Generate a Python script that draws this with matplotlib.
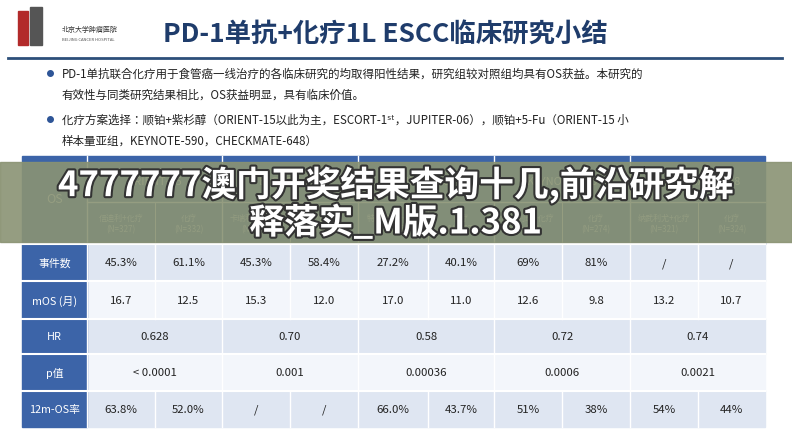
import matplotlib
matplotlib.use("Agg")
import matplotlib.pyplot as plt
from matplotlib import font_manager as fm
from matplotlib.patches import Rectangle
import matplotlib.patheffects as pe

studies = ["ORIENT-15", "ESCORT-1st", "JUPITER-06", "KEYNOTE-590", "CHECKMATE-648"]
arms = ["信迪利+化疗\n(N=327)", "化疗\n(N=332)", "卡瑞利珠+化疗\n(N=298)", "化疗\n(N=298)",
        "特瑞普利+化疗\n(N=257)", "化疗\n(N=257)", "帕博利珠+化疗\n(N=274)", "化疗\n(N=274)",
        "纳武利尤+化疗\n(N=321)", "化疗\n(N=324)"]
row_labels = ["事件数", "mOS (月)", "HR", "p值", "12m-OS率"]
events = ["45.3%", "61.1%", "45.3%", "58.4%", "27.2%", "40.1%", "69%", "81%", "/", "/"]
mos = ["16.7", "12.5", "15.3", "12.0", "17.0", "11.0", "12.6", "9.8", "13.2", "10.7"]
hr = ["0.628", "0.70", "0.58", "0.72", "0.74"]
pval = ["< 0.0001", "0.001", "0.00036", "0.0006", "0.0021"]
os12 = ["63.8%", "52.0%", "/", "/", "66.0%", "43.7%", "51%", "38%", "54%", "44%"]

names = {f.name for f in fm.fontManager.ttflist}
cjk = [n for n in ["Noto Sans CJK SC", "Noto Sans CJK JP", "Noto Sans CJK TC", "Noto Sans CJK KR",
                   "Noto Sans SC", "Noto Sans CJK"] if n in names]
if not cjk:
    cjk = [f.name for f in fm.fontManager.ttflist if "CJK" in f.name or "CJK" in f.fname][:1]
plt.rcParams["font.family"] = cjk + ["DejaVu Sans"]

fig = plt.figure(figsize=(7.92, 4.35), dpi=100)
ax = fig.add_axes([0, 0, 1, 1])
ax.set_xlim(0, 792); ax.set_ylim(435, 0); ax.axis("off")
fig.patch.set_facecolor("white")

# logo
ax.add_patch(Rectangle((18, 12), 10, 34, color="#b22a2a"))
ax.add_patch(Rectangle((30, 8), 12, 38, color="#555555"))
ax.text(62, 30, "北京大学肿瘤医院", fontsize=5, color="#333333", va="center")
ax.text(62, 40, "BEIJING CANCER HOSPITAL", fontsize=3, color="#555555", va="center")
ax.text(163, 34, "PD-1单抗+化疗1L ESCC临床研究小结", fontsize=19, fontweight="bold",
        color="#1f3c6b", va="center")
ax.plot([8, 782], [59, 59], color="#2d4f7a", lw=2)

bul = "#2e5597"
fs = 8.3
ax.plot(50, 74, "o", color=bul, ms=4)
ax.text(62, 74, "PD-1单抗联合化疗用于食管癌一线治疗的各临床研究的均取得阳性结果，研究组较对照组均具有OS获益。本研究的",
        fontsize=fs, va="center", color="#222222")
ax.text(62, 95, "有效性与同类研究结果相比，OS获益明显，具有临床价值。", fontsize=fs, va="center", color="#222222")
ax.plot(50, 120, "o", color=bul, ms=4)
ax.text(62, 120, "化疗方案选择：顺铂+紫杉醇（ORIENT-15以此为主，ESCORT-1ˢᵗ，JUPITER-06），顺铂+5-Fu（ORIENT-15 小",
        fontsize=fs, va="center", color="#222222")
ax.text(62, 141, "样本量亚组，KEYNOTE-590，CHECKMATE-648）", fontsize=fs, va="center", color="#222222")

# table
xb = [22, 87, 155, 222, 290, 358, 428, 494, 562, 630, 698, 765]
hdr = "#3c64a8"
ax.add_patch(Rectangle((xb[0], 157), xb[-1]-xb[0], 88, color=hdr))
ax.text((xb[0]+xb[1])/2, 200, "OS", color="white", fontsize=9, ha="center", va="center")
for i, s in enumerate(studies):
    x0, x1 = xb[1+2*i], xb[3+2*i]
    ax.plot([x0, x0], [157, 245], color="white", lw=1)
    ax.text((x0+x1)/2, 182, s, color="white", fontsize=8, ha="center", va="center")
ax.plot([xb[1], xb[-1]], [203, 203], color="white", lw=1)
for j, a in enumerate(arms):
    x0, x1 = xb[1+j], xb[2+j]
    ax.plot([x0, x0], [203, 245], color="white", lw=0.7)
    ax.text((x0+x1)/2, 224, a, color="#dfe7f5", fontsize=5.8, ha="center", va="center", linespacing=1.3)

yb = [245, 282, 320, 355, 392, 428]
fills = ["#dfe6f2", "#f3f6fb", "#dfe6f2", "#f3f6fb", "#dfe6f2"]
rows = [events, mos, hr, pval, os12]
vf = 8.2
for r in range(5):
    y0, y1 = yb[r], yb[r+1]
    yc = (y0+y1)/2
    ax.add_patch(Rectangle((xb[1], y0), xb[-1]-xb[1], y1-y0, color=fills[r]))
    ax.add_patch(Rectangle((xb[0], y0), xb[1]-xb[0], y1-y0, color=hdr))
    ax.plot([xb[0], xb[-1]], [y0, y0], color="white", lw=1.5)
    ax.text((xb[0]+xb[1])/2, yc, row_labels[r], color="white", fontsize=7.8, ha="center", va="center")
    vals = rows[r]
    if len(vals) == 10:
        for j, v in enumerate(vals):
            ax.text((xb[1+j]+xb[2+j])/2, yc, v, fontsize=vf, ha="center", va="center", color="#222222")
            ax.plot([xb[1+j]]*2, [y0, y1], color="white", lw=1)
    else:
        for i, v in enumerate(vals):
            ax.text((xb[1+2*i]+xb[3+2*i])/2, yc, v, fontsize=vf, ha="center", va="center", color="#222222")
            ax.plot([xb[1+2*i]]*2, [y0, y1], color="white", lw=1)

# banner overlay
ax.add_patch(Rectangle((0, 163), 792, 80, color="#8a9373", alpha=0.9, zorder=5))
pe_ = [pe.withStroke(linewidth=3, foreground="#333333")]
ax.text(396, 186, "4777777澳门开奖结果查询十几,前沿研究解", fontsize=25, fontweight="bold",
        color="white", ha="center", va="center", zorder=6, path_effects=pe_)
ax.text(396, 224, "释落实_M版.1.381", fontsize=25, fontweight="bold",
        color="white", ha="center", va="center", zorder=6, path_effects=pe_)

fig.savefig("out.png", dpi=100)
